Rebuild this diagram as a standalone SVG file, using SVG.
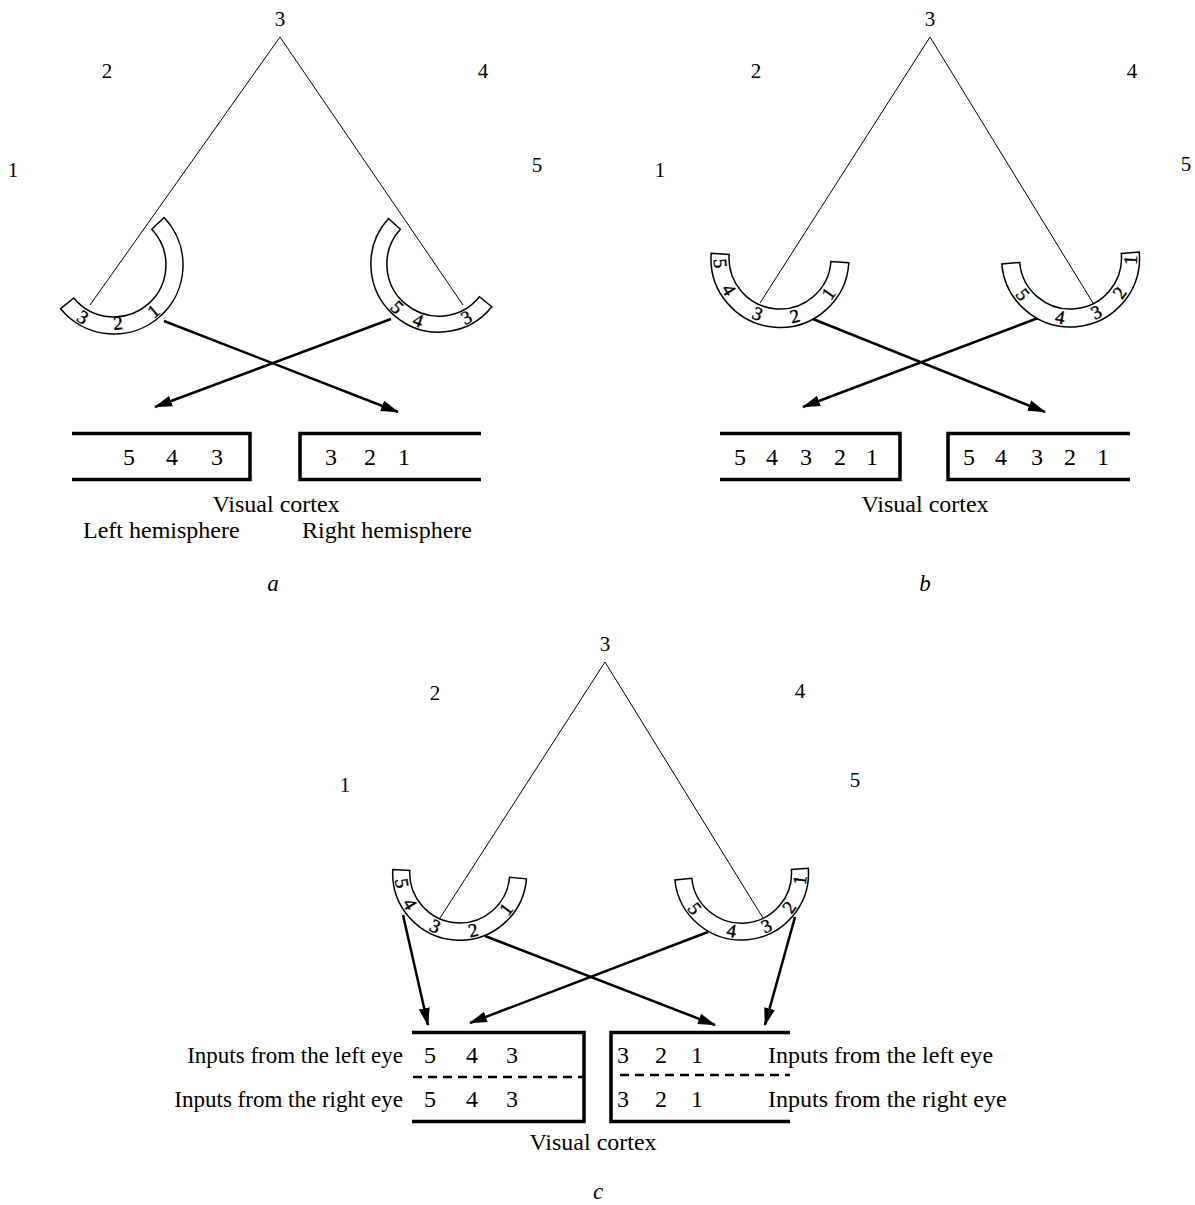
<svg xmlns="http://www.w3.org/2000/svg" width="1195" height="1205" viewBox="0 0 1195 1205">
  <style>
    text { font-family: "Liberation Serif", "Times New Roman", serif; fill: #000; }
    .lbl { font-size: 24px; }
    .lbl-l { font-size: 23px; }
    .pt { font-size: 21px; text-anchor: middle; }
    .num { font-size: 24px; text-anchor: middle; }
    .eyedig { font-size: 19px; text-anchor: middle; stroke: #000; stroke-width: 0.4; }
    .cap { font-size: 23px; text-anchor: middle; font-style: italic; }
    .eye { fill: #fff; stroke: #000; stroke-width: 1.5; stroke-linejoin: miter; }
    .ray { stroke: #000; stroke-width: 1; fill: none; }
    .arrow { stroke: #000; stroke-width: 2.5; fill: none; marker-end: url(#head); }
    .box { stroke: #000; stroke-width: 3.5; fill: none; }
    .dash { stroke: #000; stroke-width: 2.5; stroke-dasharray: 9 6; fill: none; }
  </style>
  <defs>
    <marker id="head" markerUnits="userSpaceOnUse" markerWidth="18" markerHeight="12" viewBox="0 0 18 12" refX="17" refY="6" orient="auto">
      <path d="M0,0.5 L18,6 L0,11.5 Z" fill="#000"/>
    </marker>
  </defs>
  <rect width="1195" height="1205" fill="#fff"/>

  <!-- sight lines and projections -->
  <g id="connectors">
    <line class="ray" x1="280" y1="37" x2="90" y2="305"/>
    <line class="ray" x1="280" y1="37" x2="463" y2="305"/>
    <line class="ray" x1="930" y1="37" x2="760" y2="303"/>
    <line class="ray" x1="930" y1="37" x2="1093" y2="303"/>
    <line class="ray" x1="605" y1="662" x2="440" y2="918"/>
    <line class="ray" x1="605" y1="662" x2="763" y2="918"/>

    <line class="arrow" x1="164" y1="321" x2="398" y2="412"/>
    <line class="arrow" x1="391" y1="319" x2="155" y2="407"/>
    <line class="arrow" x1="813" y1="319" x2="1045" y2="412"/>
    <line class="arrow" x1="1038" y1="318" x2="803" y2="407"/>
    <line class="arrow" x1="403" y1="915" x2="428" y2="1025"/>
    <line class="arrow" x1="485" y1="936" x2="715" y2="1025"/>
    <line class="arrow" x1="708" y1="932" x2="470" y2="1023"/>
    <line class="arrow" x1="795" y1="917" x2="765" y2="1025"/>
  </g>

  <!-- panel a -->
  <g id="a-points">
    <text class="pt" x="280" y="26">3</text>
    <text class="pt" x="107" y="78">2</text>
    <text class="pt" x="483" y="78">4</text>
    <text class="pt" x="13" y="177">1</text>
    <text class="pt" x="537" y="172">5</text>
  </g>
  <g id="a-left-eye">
    <path class="eye" d="M164.05,217.5 A69,69 0 1 1 60.61,308.7 L73.76,297.94 A52,52 0 1 0 151.72,229.2 Z"/>
    <text class="eyedig" transform="translate(83,317) rotate(30.8)" y="6.5">3</text>
    <text class="eyedig" transform="translate(118,323) rotate(-4)" y="6.5">2</text>
    <text class="eyedig" transform="translate(153.5,311) rotate(-40.5)" y="6.5">1</text>
  </g>
  <g id="a-right-eye">
    <path class="eye" d="M491.84,306.79 A68,68 0 1 1 388.47,218.5 L400.36,229.21 A52,52 0 1 0 479.41,296.72 Z"/>
    <text class="eyedig" transform="translate(397.3,307.2) rotate(44)" y="6.5">5</text>
    <text class="eyedig" transform="translate(418.2,320.3) rotate(20.3)" y="6.5">4</text>
    <text class="eyedig" transform="translate(466.3,317.4) rotate(-27.1)" y="6.5">3</text>
  </g>
  <g id="a-left-cortex">
    <polyline class="box" points="72,433.5 250,433.5 250,479.5 72,479.5"/>
    <text class="num" x="129" y="465">5</text>
    <text class="num" x="172" y="465">4</text>
    <text class="num" x="217" y="465">3</text>
  </g>
  <g id="a-right-cortex">
    <polyline class="box" points="481,433.5 300,433.5 300,479.5 481,479.5"/>
    <text class="num" x="331" y="465">3</text>
    <text class="num" x="370" y="465">2</text>
    <text class="num" x="404" y="465">1</text>
  </g>
  <g id="a-labels">
    <text class="lbl" x="276" y="512" text-anchor="middle">Visual cortex</text>
    <text class="lbl" x="83" y="538">Left hemisphere</text>
    <text class="lbl" x="302" y="538">Right hemisphere</text>
    <text class="cap" x="273" y="591">a</text>
  </g>

  <!-- panel b -->
  <g id="b-points">
    <text class="pt" x="930" y="26">3</text>
    <text class="pt" x="756" y="78">2</text>
    <text class="pt" x="1132" y="78">4</text>
    <text class="pt" x="660" y="177">1</text>
    <text class="pt" x="1186" y="171">5</text>
  </g>
  <g id="b-left-eye">
    <path class="eye" d="M848.83,262.81 A69,69 0 1 1 711.17,253.19 L729.12,254.44 A51,51 0 1 0 830.88,261.56 Z"/>
    <text class="eyedig" transform="translate(720.5,263.4) rotate(84.8)" y="6.5">5</text>
    <text class="eyedig" transform="translate(729,289.6) rotate(58.2)" y="6.5">4</text>
    <text class="eyedig" transform="translate(757.5,313.6) rotate(22)" y="6.5">3</text>
    <text class="eyedig" transform="translate(794.8,316.1) rotate(-14.3)" y="6.5">2</text>
    <text class="eyedig" transform="translate(828.4,293.4) rotate(-53.8)" y="6.5">1</text>
  </g>
  <g id="b-right-eye">
    <path class="eye" d="M1139.24,251.98 A69,69 0 1 1 1001.76,264.02 L1019.69,262.45 A51,51 0 1 0 1121.31,253.55 Z"/>
    <text class="eyedig" transform="translate(1022.7,294.3) rotate(52.8)" y="6.5">5</text>
    <text class="eyedig" transform="translate(1060,317.1) rotate(10.1)" y="6.5">4</text>
    <text class="eyedig" transform="translate(1096.2,312.2) rotate(-25.4)" y="6.5">3</text>
    <text class="eyedig" transform="translate(1119.5,292.6) rotate(-54.8)" y="6.5">2</text>
    <text class="eyedig" transform="translate(1130.5,260) rotate(-88.1)" y="6.5">1</text>
  </g>
  <g id="b-left-cortex">
    <polyline class="box" points="720,433.5 900,433.5 900,479.5 720,479.5"/>
    <text class="num" x="740" y="465">5</text>
    <text class="num" x="772" y="465">4</text>
    <text class="num" x="806" y="465">3</text>
    <text class="num" x="840" y="465">2</text>
    <text class="num" x="872" y="465">1</text>
  </g>
  <g id="b-right-cortex">
    <polyline class="box" points="1130,433.5 948,433.5 948,479.5 1130,479.5"/>
    <text class="num" x="969" y="465">5</text>
    <text class="num" x="1001" y="465">4</text>
    <text class="num" x="1037" y="465">3</text>
    <text class="num" x="1070" y="465">2</text>
    <text class="num" x="1103" y="465">1</text>
  </g>
  <g id="b-labels">
    <text class="lbl" x="925" y="512" text-anchor="middle">Visual cortex</text>
    <text class="cap" x="925" y="591">b</text>
  </g>

  <!-- panel c -->
  <g id="c-points">
    <text class="pt" x="605" y="651">3</text>
    <text class="pt" x="435" y="700">2</text>
    <text class="pt" x="800" y="698">4</text>
    <text class="pt" x="345" y="792">1</text>
    <text class="pt" x="855" y="787">5</text>
  </g>
  <g id="c-left-eye">
    <path class="eye" d="M526.45,878.84 A67,67 0 0 1 392.79,869.49 L409.77,870.38 A50,50 0 0 0 509.51,877.36 Z"/>
    <text class="eyedig" transform="translate(402.1,883.2) rotate(80)" y="6.5">5</text>
    <text class="eyedig" transform="translate(410,903.9) rotate(58.1)" y="6.5">4</text>
    <text class="eyedig" transform="translate(435.2,926.2) rotate(24.7)" y="6.5">3</text>
    <text class="eyedig" transform="translate(473.1,930) rotate(-13.2)" y="6.5">2</text>
    <text class="eyedig" transform="translate(505.9,908.9) rotate(-52.1)" y="6.5">1</text>
  </g>
  <g id="c-right-eye">
    <path class="eye" d="M808.34,868.32 A67,67 0 0 1 674.87,880 L691.77,878.23 A50,50 0 0 0 791.38,869.51 Z"/>
    <text class="eyedig" transform="translate(694.9,908.4) rotate(52.8)" y="6.5">5</text>
    <text class="eyedig" transform="translate(731.5,930.6) rotate(9.8)" y="6.5">4</text>
    <text class="eyedig" transform="translate(766.4,925.9) rotate(-25.2)" y="6.5">3</text>
    <text class="eyedig" transform="translate(788.9,907.2) rotate(-54.2)" y="6.5">2</text>
    <text class="eyedig" transform="translate(799.6,879.9) rotate(-83.2)" y="6.5">1</text>
  </g>
  <g id="c-left-cortex">
    <polyline class="box" points="412,1032.5 584,1032.5 584,1121.5 412,1121.5"/>
    <line class="dash" x1="413" y1="1077" x2="583" y2="1077"/>
    <text class="num" x="430" y="1063">5</text>
    <text class="num" x="472" y="1063">4</text>
    <text class="num" x="512" y="1063">3</text>
    <text class="num" x="430" y="1107">5</text>
    <text class="num" x="472" y="1107">4</text>
    <text class="num" x="512" y="1107">3</text>
  </g>
  <g id="c-right-cortex">
    <polyline class="box" points="790,1032.5 611,1032.5 611,1121.5 790,1121.5"/>
    <line class="dash" x1="620" y1="1075" x2="790" y2="1075"/>
    <text class="num" x="623" y="1063">3</text>
    <text class="num" x="661" y="1063">2</text>
    <text class="num" x="697" y="1063">1</text>
    <text class="num" x="623" y="1107">3</text>
    <text class="num" x="661" y="1107">2</text>
    <text class="num" x="697" y="1107">1</text>
  </g>
  <g id="c-labels">
    <text class="lbl-l" x="403" y="1063" text-anchor="end">Inputs from the left eye</text>
    <text class="lbl-l" x="403" y="1107" text-anchor="end">Inputs from the right eye</text>
    <text class="lbl" x="768" y="1063">Inputs from the left eye</text>
    <text class="lbl" x="768" y="1107">Inputs from the right eye</text>
    <text class="lbl" x="593" y="1150" text-anchor="middle">Visual cortex</text>
    <text class="cap" x="598" y="1199">c</text>
  </g>
</svg>
